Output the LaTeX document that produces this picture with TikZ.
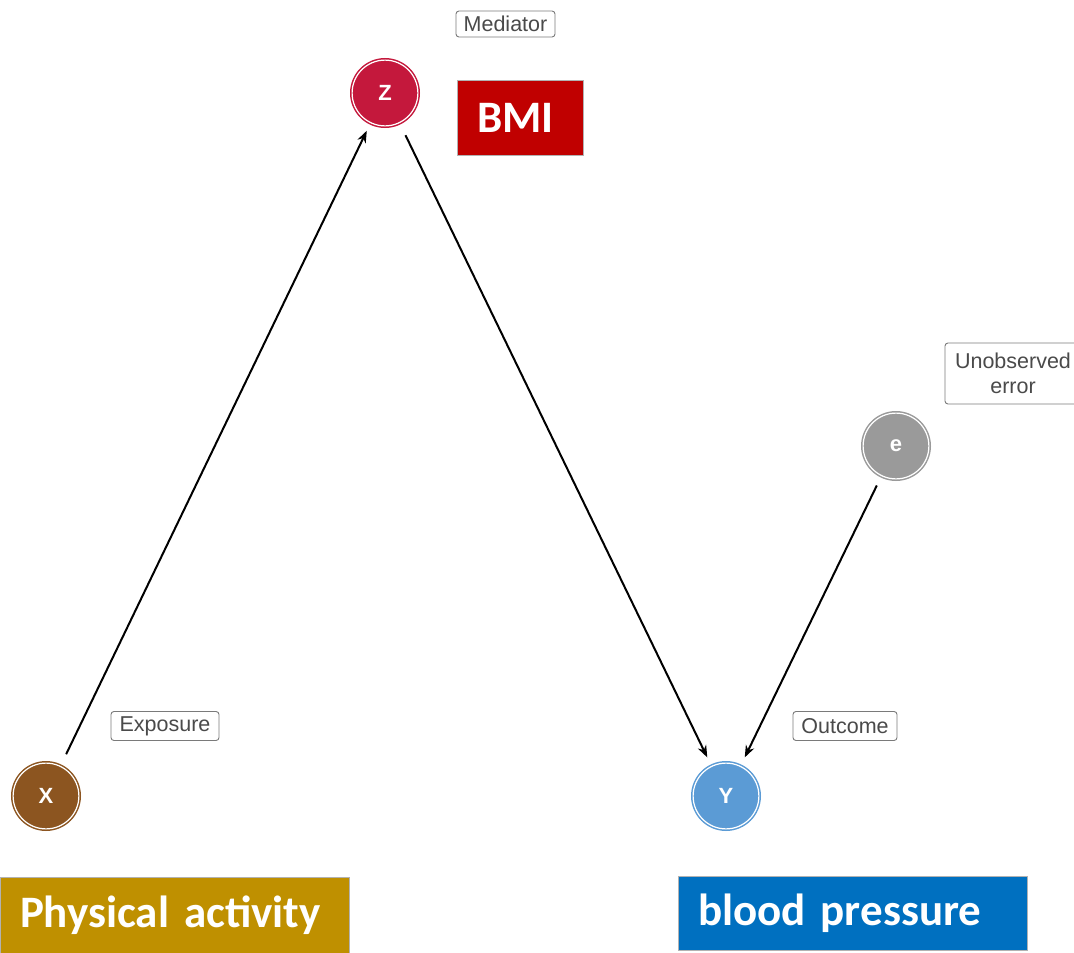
\documentclass[tikz,border=0pt]{standalone}
\usepackage{fontspec}
\setmainfont{Liberation Sans}
\newfontfamily\calfont[WordSpace=0.8]{Carlito}
\usetikzlibrary{arrows.meta}
\definecolor{zred}{HTML}{C4183C}
\definecolor{xbrown}{HTML}{8C5520}
\definecolor{yblue}{HTML}{5B9BD5}
\definecolor{egrey}{HTML}{9A9A9A}
\definecolor{bmired}{HTML}{C00000}
\definecolor{pagold}{HTML}{BF9000}
\definecolor{bpblue}{HTML}{0070C0}
\definecolor{tagtext}{HTML}{4A4A4A}
\definecolor{tagline}{HTML}{7A7A7A}
\begin{document}
\begin{tikzpicture}[x=1pt,y=-1pt,
  var/.style={circle, minimum size=65.8pt, inner sep=0pt, outer sep=0pt,
    line width=1.5pt, double=white, double distance=1.2pt,
    text=white, font=\fontsize{22}{24}\selectfont\bfseries},
  tag/.style={draw=tagline, line width=0.9pt, rounded corners=3pt, fill=white, inner sep=0pt,
    text=tagtext, font=\fontsize{21.5}{25}\selectfont, align=center},
  banner/.style={draw=gray!60, line width=0.8pt, inner xsep=20pt, inner ysep=0pt,
    align=left, text=white, font=\fontsize{45}{48}\selectfont\calfont\bfseries},
  arr/.style={-{Stealth[length=12pt,width=9pt]}, line width=2pt, black}]
\useasboundingbox (0,0) rectangle (1074,953);
\clip (0,0) rectangle (1074,953);

% variables
\node[var, fill=zred, draw=zred] (Z) at (385,93) {Z};
\node[var, fill=xbrown, draw=xbrown] (X) at (46,796) {X};
\node[var, fill=yblue, draw=yblue] (Y) at (726,796) {Y};
\node[var, fill=egrey, draw=egrey] (E) at (896,446) {e};

% role tags
\node[tag, minimum width=99pt, minimum height=26pt] (tagM) at (505.5,24) {Mediator};
\node[tag, minimum width=108pt, minimum height=29pt] (tagX) at (165,726) {Exposure};
\node[tag, minimum width=104pt, minimum height=29pt] (tagY) at (845,726) {Outcome};
\node[tag, minimum width=136pt, minimum height=61pt] (tagE) at (1013,373.5) {Unobserved\\error};

% labels of the variables
\node[banner, fill=bmired, text width=86pt, minimum height=75pt] (bmi) at (520,117.5) {\mbox{BMI}};
\node[banner, fill=pagold, text width=309pt, minimum height=76pt] (pa) at (174.5,915) {\mbox{Physical activity}};
\node[banner, fill=bpblue, text width=309pt, minimum height=74pt] (bp) at (852.5,913) {\mbox{blood pressure}};

% paths
\draw[arr, shorten <=13.5pt, shorten >=9pt] (X) -- (Z);
\draw[arr, shorten <=14pt, shorten >=10pt] (Z) -- (Y);
\draw[arr, shorten <=11pt, shorten >=10pt] (E) -- (Y);
\end{tikzpicture}
\end{document}
